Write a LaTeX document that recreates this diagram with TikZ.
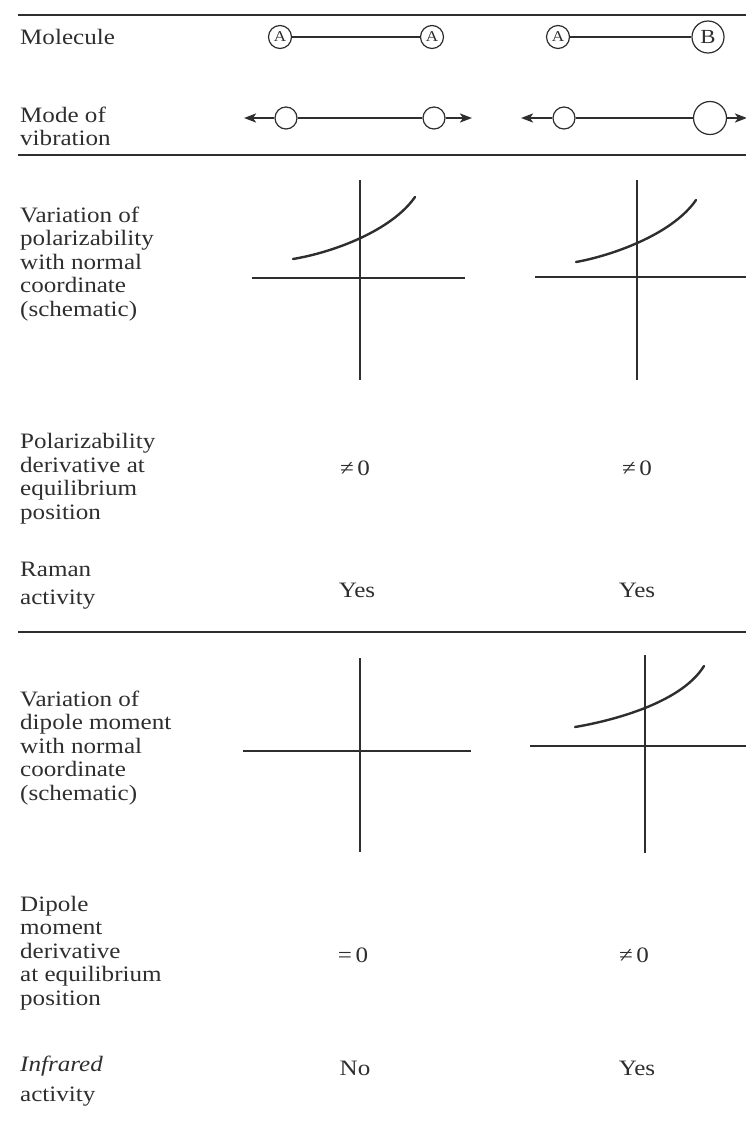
\documentclass[tikz,border=0pt]{standalone}
\usepackage{fontspec}
\setmainfont{Liberation Serif}[FakeStretch=1.14]
\usetikzlibrary{arrows.meta}
\definecolor{ink}{gray}{0.18}
\tikzset{
  lbl/.style={anchor=base west, align=left, inner sep=0pt, text=ink,
    font=\fontsize{22}{23.5}\selectfont},
  val/.style={inner sep=0pt, text=ink, font=\fontsize{22}{24}\selectfont},
  rulel/.style={draw=ink, line width=1.8pt},
  axis/.style={draw=ink, line width=1.1pt},
  curve/.style={draw=ink, line width=2.4pt, line cap=round},
  bond/.style={draw=ink, line width=1.1pt},
  atomA/.style={circle, draw=ink, line width=1.2pt, minimum size=23pt, inner sep=0pt,
    text=ink, font=\fontsize{15}{15}\selectfont},
  atomB/.style={circle, draw=ink, line width=1.2pt, minimum size=32pt, inner sep=0pt,
    text=ink, font=\fontsize{20}{20}\selectfont},
  ball/.style={circle, draw=ink, line width=1.2pt, minimum size=#1, inner sep=0pt, fill=white},
  vib/.style={draw=ink, line width=2.2pt},
  vibarrow/.style={draw=ink, line width=2.2pt, -{Stealth[length=12pt,width=9pt,inset=3pt]}},
}
\begin{document}
\begin{tikzpicture}[x=1pt,y=-1pt]
\useasboundingbox (0,0) rectangle (746,1126);
% rules
\coordinate (r1a) at (18,15);  \coordinate (r1b) at (746,15);
\coordinate (r2a) at (18,155); \coordinate (r2b) at (746,155);
\coordinate (r3a) at (18,632); \coordinate (r3b) at (746,632);
\draw[rulel, line width=2.4pt] (r1a) -- (r1b);
\draw[rulel] (r2a) -- (r2b);
\draw[rulel, line width=1.5pt] (r3a) -- (r3b);

% left labels (y = baseline of the last line)
\node[lbl] (lmol) at (20,45) {Molecule};
\node[lbl] (lmode) at (20,146) {Mode of\\vibration};
\node[lbl] (lvarp) at (20,316) {Variation of\\polarizability\\with normal\\coordinate\\(schematic)};
\node[lbl] (lpder) at (20,519) {Polarizability\\derivative at\\equilibrium\\position};
\node[lbl] (lram) at (20,604) {Raman\\[4pt]activity};
\node[lbl] (lvard) at (20,800) {Variation of\\dipole moment\\with normal\\coordinate\\(schematic)};
\node[lbl] (ldder) at (20,1005) {Dipole\\moment\\derivative\\at equilibrium\\position};
\node[lbl] (lir) at (20,1101) {\textit{Infrared}\\[6pt]activity};

% molecules
\node[atomA] (a1) at (280,37) {A};
\node[atomA] (a2) at (432,37) {A};
\draw[bond] (a1) -- (a2);
\node[atomA] (a3) at (558,37) {A};
\node[atomB] (b1) at (708,37) {B};
\draw[bond] (a3) -- (b1);

% modes of vibration
\node[ball=22pt] (m1) at (286,118) {};
\node[ball=22pt] (m2) at (434,118) {};
\coordinate (t1) at (244,118);
\coordinate (t2) at (472,118);
\draw[vib] (m1) -- (m2);
\draw[vibarrow] (m1) -- (t1);
\draw[vibarrow] (m2) -- (t2);
\node[ball=22pt] (m3) at (564,118) {};
\node[ball=33pt] (m4) at (710,118) {};
\coordinate (t3) at (521,118);
\coordinate (t4) at (747,118);
\draw[vib] (m3) -- (m4);
\draw[vibarrow] (m3) -- (t3);
\draw[vibarrow] (m4) -- (t4);

% plot 1: polarizability, A-A
\coordinate (p1v1) at (360,180); \coordinate (p1v2) at (360,380);
\coordinate (p1h1) at (252,278); \coordinate (p1h2) at (465,278);
\draw[axis] (p1v1) -- (p1v2);
\draw[axis] (p1h1) -- (p1h2);
\coordinate (p1c0) at (293,259); \coordinate (p1c3) at (415,197);
\draw[curve] (p1c0) .. controls (335,252) and (392,230) .. (p1c3);

% plot 2: polarizability, A-B
\coordinate (p2v1) at (637,180); \coordinate (p2v2) at (637,380);
\coordinate (p2h1) at (535,277); \coordinate (p2h2) at (746,277);
\draw[axis] (p2v1) -- (p2v2);
\draw[axis] (p2h1) -- (p2h2);
\coordinate (p2c0) at (576,262); \coordinate (p2c3) at (696,200);
\draw[curve] (p2c0) .. controls (610,256) and (672,235) .. (p2c3);

% plot 3: dipole, A-A
\coordinate (p3v1) at (360,658); \coordinate (p3v2) at (360,852);
\coordinate (p3h1) at (243,751); \coordinate (p3h2) at (471,751);
\draw[axis] (p3v1) -- (p3v2);
\draw[axis] (p3h1) -- (p3h2);
\coordinate (p3c0) at (290,751); \coordinate (p3c1) at (430,751);
\draw[curve, line width=2pt] (p3c0) -- (p3c1);

% plot 4: dipole, A-B
\coordinate (p4v1) at (645,655); \coordinate (p4v2) at (645,853);
\coordinate (p4h1) at (530,746); \coordinate (p4h2) at (746,746);
\draw[axis] (p4v1) -- (p4v2);
\draw[axis] (p4h1) -- (p4h2);
\coordinate (p4c0) at (575,727); \coordinate (p4c3) at (704,666);
\draw[curve] (p4c0) .. controls (605,722) and (680,705) .. (p4c3);

% values
\node[val] (v1) at (355,468) {≠\,0};
\node[val] (v2) at (637,468) {≠\,0};
\node[val] (v3) at (357,590) {Yes};
\node[val] (v4) at (637,590) {Yes};
\node[val] (v5) at (353,955) {=\,0};
\node[val] (v6) at (634,955) {≠\,0};
\node[val] (v7) at (355,1068) {No};
\node[val] (v8) at (637,1068) {Yes};
\end{tikzpicture}
\end{document}
